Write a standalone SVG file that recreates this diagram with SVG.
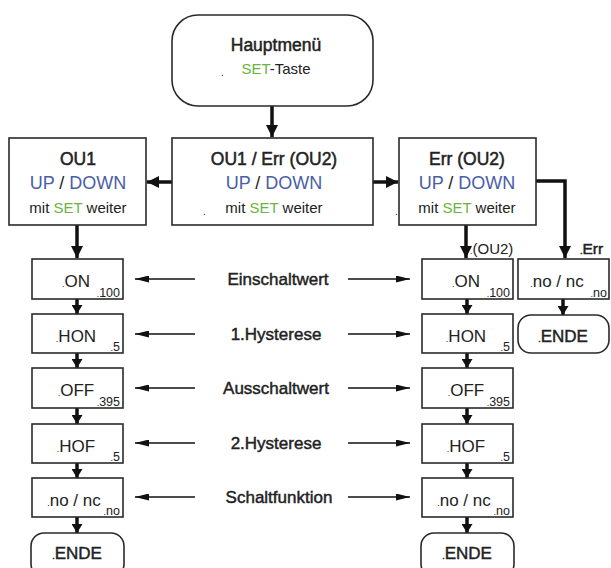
<svg xmlns="http://www.w3.org/2000/svg" width="611" height="568" viewBox="0 0 611 568">
<defs>
<style>
text{font-family:"Liberation Sans",Arial,sans-serif;fill:#222;}
.box{fill:#fff;stroke:#2a2a2a;stroke-width:1.6;}
.h{font-size:17.5px;text-anchor:middle;stroke:#222;stroke-width:0.5;}
.blue{fill:#4a5ea8;stroke:none;}
.green{fill:#6cb33f;stroke:none;}
.ud{font-size:18px;text-anchor:middle;}
.mit{font-size:15px;text-anchor:middle;}
.val{font-size:17px;text-anchor:middle;}
.sub{font-size:12.5px;text-anchor:end;}
.lab{font-size:17px;text-anchor:middle;stroke:#222;stroke-width:0.45;}
.d{font-size:9px;}
.dot{font-size:10px;}
.thick{stroke:#111;stroke-width:3.5;fill:none;}
.thin{stroke:#111;stroke-width:1.5;fill:none;}
</style>
<marker id="big" markerUnits="userSpaceOnUse" markerWidth="12" markerHeight="12" refX="12" refY="6" orient="auto"><path d="M0,0 L12,6 L0,12 z" fill="#111"/></marker>
<marker id="mid" markerUnits="userSpaceOnUse" markerWidth="9" markerHeight="11" refX="9" refY="5.5" orient="auto"><path d="M0,0 L9,5.5 L0,11 z" fill="#111"/></marker>
<marker id="sm" markerUnits="userSpaceOnUse" markerWidth="14" markerHeight="7" refX="14" refY="3.5" orient="auto"><path d="M0,0 L14,3.5 L0,7 z" fill="#111"/></marker>
</defs>
<rect width="611" height="568" fill="#fff"/>

<g id="connectors">
<line class="thick" x1="272" y1="106" x2="272" y2="137" marker-end="url(#big)"/>
<line class="thick" x1="172" y1="182" x2="147" y2="182" marker-end="url(#big)"/>
<line class="thick" x1="373" y1="182" x2="398" y2="182" marker-end="url(#big)"/>
<polyline class="thick" points="536,181 565,181 565,258" marker-end="url(#big)"/>
<line class="thick" x1="77" y1="225" x2="77" y2="258" marker-end="url(#big)"/>
<line class="thick" x1="466" y1="225" x2="466" y2="258" marker-end="url(#big)"/>
<line class="thick" x1="77" y1="299" x2="77" y2="314" marker-end="url(#mid)"/>
<line class="thick" x1="77" y1="353" x2="77" y2="368" marker-end="url(#mid)"/>
<line class="thick" x1="77" y1="408" x2="77" y2="424" marker-end="url(#mid)"/>
<line class="thick" x1="77" y1="463" x2="77" y2="478" marker-end="url(#mid)"/>
<line class="thick" x1="77" y1="517" x2="77" y2="533" marker-end="url(#mid)"/>
<line class="thick" x1="467" y1="299" x2="467" y2="314" marker-end="url(#mid)"/>
<line class="thick" x1="467" y1="353" x2="467" y2="368" marker-end="url(#mid)"/>
<line class="thick" x1="467" y1="408" x2="467" y2="424" marker-end="url(#mid)"/>
<line class="thick" x1="467" y1="463" x2="467" y2="478" marker-end="url(#mid)"/>
<line class="thick" x1="467" y1="517" x2="467" y2="533" marker-end="url(#mid)"/>
<line class="thick" x1="563" y1="299" x2="563" y2="315" marker-end="url(#mid)"/>
<line class="thin" x1="195" y1="279" x2="135" y2="279" marker-end="url(#sm)"/>
<line class="thin" x1="348" y1="279" x2="410" y2="279" marker-end="url(#sm)"/>
<line class="thin" x1="195" y1="334" x2="135" y2="334" marker-end="url(#sm)"/>
<line class="thin" x1="348" y1="334" x2="410" y2="334" marker-end="url(#sm)"/>
<line class="thin" x1="195" y1="388" x2="135" y2="388" marker-end="url(#sm)"/>
<line class="thin" x1="348" y1="388" x2="410" y2="388" marker-end="url(#sm)"/>
<line class="thin" x1="195" y1="443" x2="135" y2="443" marker-end="url(#sm)"/>
<line class="thin" x1="348" y1="443" x2="410" y2="443" marker-end="url(#sm)"/>
<line class="thin" x1="195" y1="497" x2="135" y2="497" marker-end="url(#sm)"/>
<line class="thin" x1="348" y1="497" x2="410" y2="497" marker-end="url(#sm)"/>
<text x="470" y="254" font-size="15"><tspan class="d">.</tspan>(OU2)</text>
<text x="580" y="254" font-size="15.5" stroke="#222" stroke-width="0.5"><tspan class="d">.</tspan>Err</text>
</g>

<g id="hauptmenu">
<rect class="box" x="172" y="15" width="201" height="91" rx="26"/>
<text class="h" x="276" y="51">Hauptmenü</text>
<text x="276" y="74" font-size="15" text-anchor="middle"><tspan class="green">SET</tspan>-Taste</text>
<text class="dot" x="221" y="76">.</text>
</g>

<g id="ou1">
<rect class="box" x="9" y="138" width="137" height="87"/>
<text class="h" x="78" y="165">OU1</text>
<text class="ud" x="78" y="189"><tspan class="blue">UP</tspan> / <tspan class="blue">DOWN</tspan></text>
<text class="mit" x="78" y="213">mit <tspan class="green">SET</tspan> weiter</text>
</g>

<g id="ou1err">
<rect class="box" x="172" y="138" width="201" height="87"/>
<text class="h" x="274" y="165">OU1 / Err (OU2)</text>
<text class="ud" x="274" y="189"><tspan class="blue">UP</tspan> / <tspan class="blue">DOWN</tspan></text>
<text class="mit" x="274" y="213">mit <tspan class="green">SET</tspan> weiter</text>
<text class="dot" x="203" y="215">.</text>
</g>

<g id="err">
<rect class="box" x="399" y="138" width="137" height="87"/>
<text class="h" x="467" y="165">Err (OU2)</text>
<text class="ud" x="467" y="189"><tspan class="blue">UP</tspan> / <tspan class="blue">DOWN</tspan></text>
<text class="mit" x="467" y="213">mit <tspan class="green">SET</tspan> weiter</text>
<text class="dot" x="395" y="215">.</text>
</g>

<g id="on_l"><rect class="box" x="32" y="259" width="91" height="40"/><text class="val" x="76" y="287"><tspan class="d">.</tspan>ON</text><text class="sub" x="120" y="297"><tspan class="d">.</tspan>100</text></g>
<g id="hon_l"><rect class="box" x="32" y="314" width="91" height="39"/><text class="val" x="76" y="342"><tspan class="d">.</tspan>HON</text><text class="sub" x="120" y="351"><tspan class="d">.</tspan>5</text></g>
<g id="off_l"><rect class="box" x="32" y="368" width="91" height="40"/><text class="val" x="76" y="396"><tspan class="d">.</tspan>OFF</text><text class="sub" x="120" y="406"><tspan class="d">.</tspan>395</text></g>
<g id="hof_l"><rect class="box" x="32" y="424" width="91" height="39"/><text class="val" x="76" y="452"><tspan class="d">.</tspan>HOF</text><text class="sub" x="120" y="461"><tspan class="d">.</tspan>5</text></g>
<g id="nonc_l"><rect class="box" x="32" y="478" width="91" height="39"/><text class="val" x="74" y="506" font-size="16"><tspan class="d">.</tspan>no / nc</text><text class="sub" x="120" y="515"><tspan class="d">.</tspan>no</text></g>
<g id="ende_l"><rect class="box" x="31" y="533" width="93" height="44" rx="13"/><text class="lab" x="77" y="559"><tspan class="d">.</tspan>ENDE</text></g>

<g id="on_r"><rect class="box" x="422" y="259" width="91" height="40"/><text class="val" x="466" y="287"><tspan class="d">.</tspan>ON</text><text class="sub" x="510" y="297"><tspan class="d">.</tspan>100</text></g>
<g id="hon_r"><rect class="box" x="422" y="314" width="91" height="39"/><text class="val" x="466" y="342"><tspan class="d">.</tspan>HON</text><text class="sub" x="510" y="351"><tspan class="d">.</tspan>5</text></g>
<g id="off_r"><rect class="box" x="422" y="368" width="91" height="40"/><text class="val" x="466" y="396"><tspan class="d">.</tspan>OFF</text><text class="sub" x="510" y="406"><tspan class="d">.</tspan>395</text></g>
<g id="hof_r"><rect class="box" x="422" y="424" width="91" height="39"/><text class="val" x="466" y="452"><tspan class="d">.</tspan>HOF</text><text class="sub" x="510" y="461"><tspan class="d">.</tspan>5</text></g>
<g id="nonc_r"><rect class="box" x="422" y="478" width="91" height="39"/><text class="val" x="464" y="506" font-size="16"><tspan class="d">.</tspan>no / nc</text><text class="sub" x="510" y="515"><tspan class="d">.</tspan>no</text></g>
<g id="ende_r"><rect class="box" x="421" y="533" width="93" height="44" rx="13"/><text class="lab" x="467" y="559"><tspan class="d">.</tspan>ENDE</text></g>

<g id="nonc_err"><rect class="box" x="518" y="259" width="91" height="40"/><text class="val" x="557" y="287" font-size="16"><tspan class="d">.</tspan>no / nc</text><text class="sub" x="607" y="297"><tspan class="d">.</tspan>no</text></g>
<g id="ende_err"><rect class="box" x="518" y="315" width="91" height="38" rx="13"/><text class="lab" x="563" y="342"><tspan class="d">.</tspan>ENDE</text></g>

<g id="lab1"><text class="lab" x="278" y="285">Einschaltwert</text></g>
<g id="lab2"><text class="lab" x="276" y="340">1.Hysterese</text></g>
<g id="lab3"><text class="lab" x="276" y="394">Ausschaltwert</text></g>
<g id="lab4"><text class="lab" x="276" y="449">2.Hysterese</text></g>
<g id="lab5"><text class="lab" x="279" y="503">Schaltfunktion</text></g>
</svg>
